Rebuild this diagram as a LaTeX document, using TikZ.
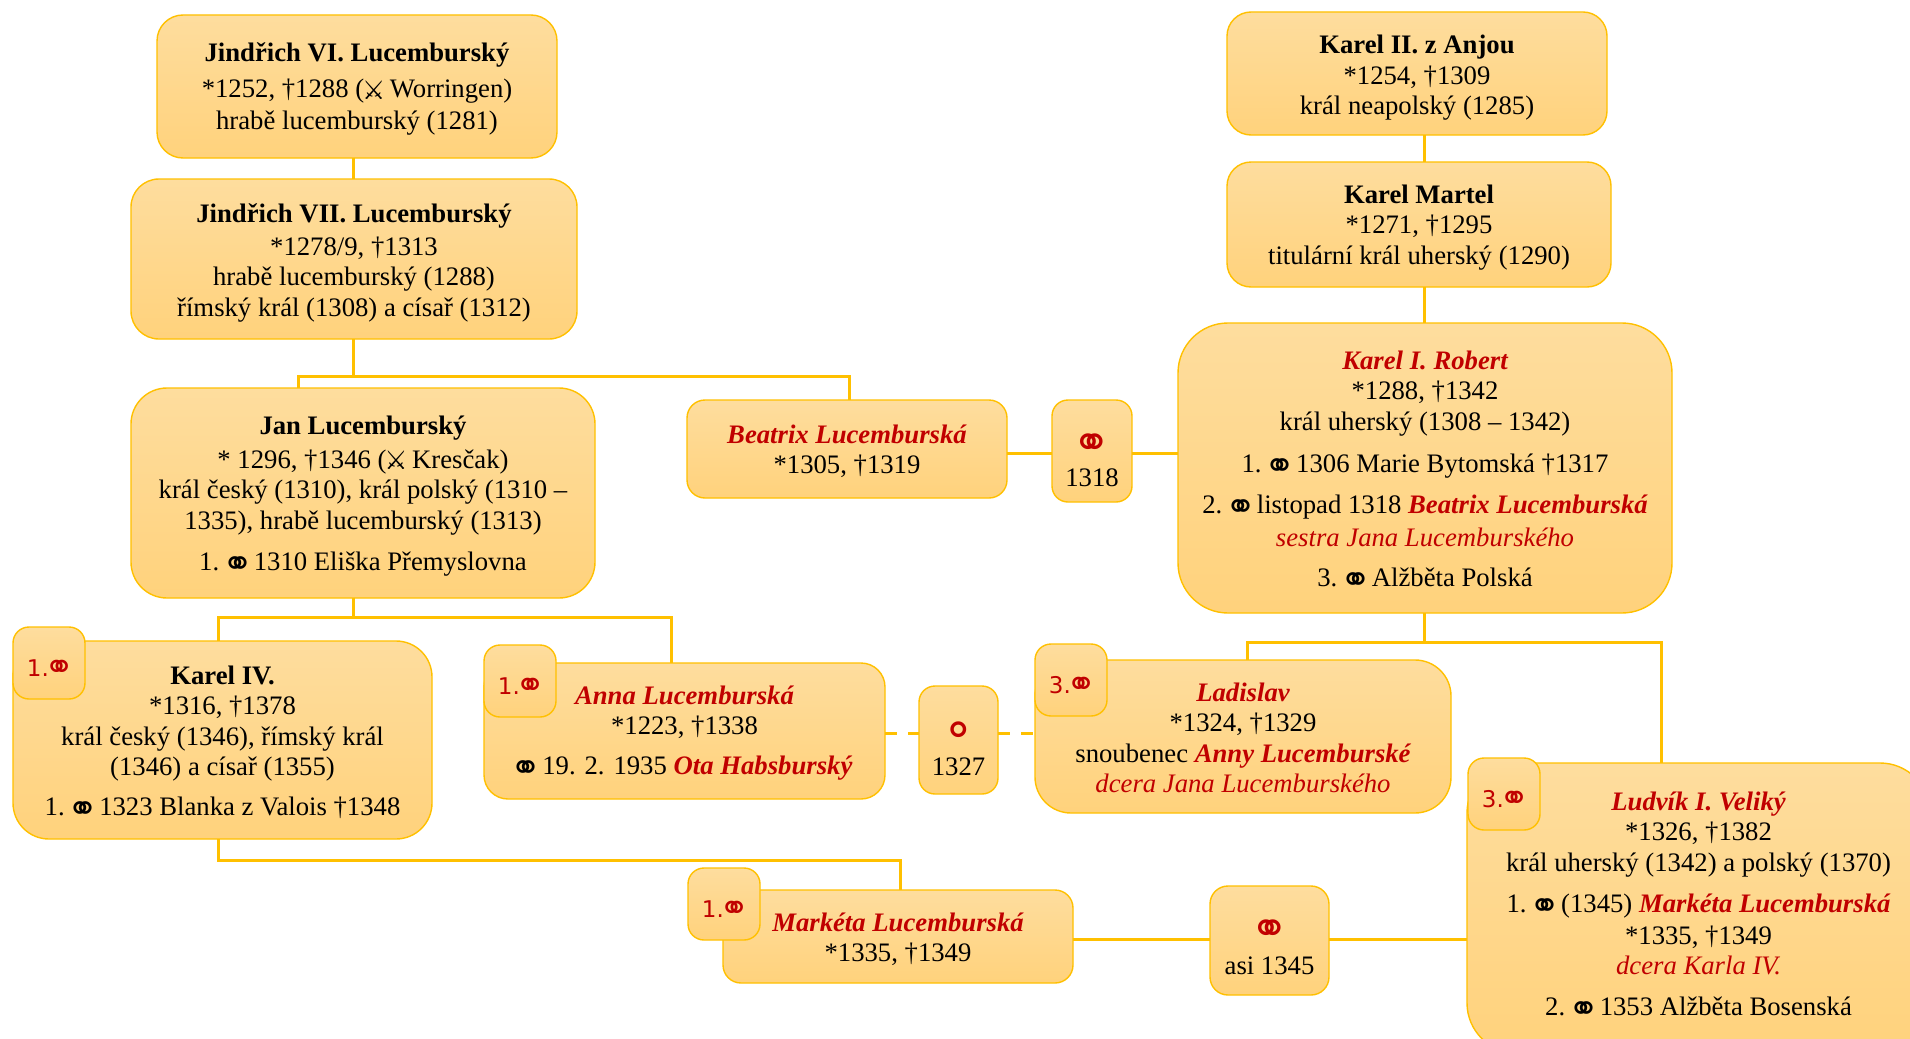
\documentclass[tikz,border=0pt]{standalone}
\usepackage{fontspec}
\setmainfont{Liberation Serif}
\newfontfamily\symf{DejaVu Sans}
\definecolor{boxline}{HTML}{FFC000}
\definecolor{boxtop}{HTML}{FEDD9E}
\definecolor{boxbot}{HTML}{FFD27C}
\definecolor{redname}{HTML}{C00000}
\newcommand{\mar}{\makebox[19pt]{\raisebox{-6pt}{\symf\fontsize{37}{21}\selectfont ⚭}}}
\newcommand{\swords}{\makebox[19pt]{\raisebox{-1.5pt}{\symf\fontsize{26}{21}\selectfont ⚔}}}
\newcommand{\bigmar}{{\color{redname}\symf\fontsize{46}{27}\selectfont ⚭}}
\newcommand{\nm}[1]{\textbf{\textit{\color{redname}#1}}}
\newcommand{\rd}[1]{\textit{\color{redname}#1}}
\newcommand{\famnode}[8]{%
  \node[fambox,rounded corners=#6pt] (#1) at (#2,-#3)
  {\parbox[c][\dimexpr #5pt-#3pt\relax][t]{\dimexpr #4pt-#2pt\relax}{%
     \fontsize{26.7}{30.5}\selectfont\lineskiplimit=-100pt\centering
     \rule{0pt}{#7pt}#8}};}
\newcommand{\badge}[5]{%
  \node[fambox,rounded corners=16pt] (#1) at (#2,-#3)
  {\parbox[c][72pt][t]{72pt}{\centering\color{redname}%
     \symf\fontsize{23}{22}\selectfont\rule{0pt}{49pt}\hspace{4pt}#4.\hspace{-4pt}\raisebox{-3.5pt}{\fontsize{36}{22}\selectfont #5}}};}
\tikzset{
  fambox/.style={draw=boxline,line width=1.4pt,top color=boxtop,bottom color=boxbot,
    inner sep=0pt,outer sep=0pt,anchor=north west},
  link/.style={draw=boxline,line width=3pt},
  dashlink/.style={draw=boxline,line width=3pt,dash pattern=on 12pt off 11pt}
}
\begin{document}
\begin{tikzpicture}[x=1pt,y=1pt]
\useasboundingbox (0,0) rectangle (1910,-1038);
\clip (0,0) rectangle (1910,-1038);
\fill[white] (0,0) rectangle (1910,-1038);
\coordinate (trL) at (353,-376);
\coordinate (trJ) at (353,-617);
\coordinate (trJa) at (298,-376);
\coordinate (trBe) at (849,-376);
\coordinate (trKa) at (218,-617);
\coordinate (trAn) at (671,-617);
\coordinate (trKb) at (218,-860);
\coordinate (trMa) at (900,-860);
\coordinate (trR) at (1424,-642);
\coordinate (trLa) at (1247,-642);
\coordinate (trLu) at (1661,-642);
\coordinate (dashY) at (0,-733);
\coordinate (marA) at (0,-453);
\coordinate (marB) at (0,-939);

\famnode{jsix}{157}{15}{557}{158}{26}{46}{\textbf{Jindřich VI. Lucemburský}\\[6pt]
  {}*1252, †1288 (\swords{} Worringen)\\[1pt]hrabě lucemburský (1281)}
\famnode{jseven}{131}{179}{577}{339}{28}{43}{\textbf{Jindřich VII. Lucemburský}\\[2.5pt]
  {}*1278/9, †1313\\hrabě lucemburský (1288)\\římský král (1308) a císař (1312)}
\famnode{jan}{131}{388}{595}{598}{36}{46}{\textbf{Jan Lucemburský}\\[3.5pt]
  {}* 1296, †1346 (\swords{} Kresčak)\\král český (1310), král polský (1310 –\\1335), hrabě lucemburský (1313)\\[10.5pt]
  1. \mar{} 1310 Eliška Přemyslovna}
\famnode{beat}{687}{400}{1007}{498}{18}{43}{\nm{Beatrix Lucemburská}\\{}*1305, †1319}
\famnode{mone}{1052}{400}{1132}{502}{16}{58}{\bigmar\\[-2.5pt]1318}
\famnode{kaii}{1227}{12}{1607}{135}{24}{42}{\textbf{Karel II. z Anjou}\\{}*1254, †1309\\král neapolský (1285)}
\famnode{mart}{1227}{162}{1611}{287}{24}{41}{\textbf{Karel Martel}\\{}*1271, †1295\\titulární král uherský (1290)}
\famnode{robe}{1178}{323}{1672}{613}{50}{46}{\nm{Karel I. Robert}\\{}*1288, †1342\\král uherský (1308 – 1342)\\[11.5pt]
  1. \mar{} 1306 Marie Bytomská †1317\\[10.5pt]
  2. \mar{} listopad 1318 \nm{Beatrix Lucemburská}\\[2.5pt]
  \rd{sestra Jana Lucemburského}\\[9.5pt]
  3. \mar{} Alžběta Polská}
\famnode{kafo}{13}{641}{432}{839}{36}{43}{\textbf{Karel IV.}\\{}*1316, †1378\\král český (1346), římský král\\(1346) a císař (1355)\\[9.5pt]
  1. \mar{} 1323 Blanka z Valois †1348}
\famnode{anna}{484}{663}{885}{799}{24}{41}{\nm{Anna Lucemburská}\\{}*1223, †1338\\[9.5pt]
  \mar{} 19. 2. 1935 \nm{Ota Habsburský}}
\famnode{mtwo}{919}{686}{998}{794}{16}{60}{{\color{redname}\symf\fontsize{46}{27}\selectfont ⚬}\\[-1.5pt]1327}
\famnode{lada}{1035}{660}{1451}{813}{36}{41}{\nm{Ladislav}\\{}*1324, †1329\\snoubenec \nm{Anny Lucemburské}\\\rd{dcera Jana Lucemburského}}
\famnode{ludv}{1467}{763}{1930}{1053}{50}{47}{\nm{Ludvík I. Veliký}\\{}*1326, †1382\\král uherský (1342) a polský (1370)\\[10.5pt]
  1. \mar{} (1345) \nm{Markéta Lucemburská}\\[1.5pt]
  {}*1335, †1349\\\rd{dcera Karla IV.}\\[10.5pt]
  2. \mar{} 1353 Alžběta Bosenská}
\famnode{mark}{723}{890}{1073}{983}{18}{41}{\nm{Markéta Lucemburská}\\{}*1335, †1349}
\famnode{mthr}{1210}{886}{1329}{995}{18}{58}{\bigmar\\[-0.5pt]asi 1345}

\badge{bka}{13}{627}{1}{⚭}
\badge{ban}{484}{645}{1}{⚭}
\badge{bla}{1035}{644}{3}{⚭}
\badge{blu}{1468}{758}{3}{⚭}
\badge{bma}{688}{868}{1}{⚭}

\draw[link] (jsix.south -| trL) -- (jseven.north -| trL);
\draw[link] (jseven.south -| trL) -- (trL);
\draw[link] (jan.north -| trJa) -- (trJa) -- (trBe) -- (beat.north -| trBe);
\draw[link] (jan.south -| trJ) -- (trJ);
\draw[link] (kafo.north -| trKa) -- (trKa) -- (trAn) -- (anna.north -| trAn);
\draw[link] (kafo.south -| trKb) -- (trKb) -- (trMa) -- (mark.north -| trMa);
\draw[link] (kaii.south -| trR) -- (mart.north -| trR);
\draw[link] (mart.south -| trR) -- (robe.north -| trR);
\draw[link] (robe.south -| trR) -- (trR);
\draw[link] (lada.north -| trLa) -- (trLa) -- (trLu) -- (ludv.north -| trLu);
\draw[link] (beat.east |- marA) -- (mone.west |- marA);
\draw[link] (mone.east |- marA) -- (robe.west |- marA);
\draw[link] (mark.east |- marB) -- (mthr.west |- marB);
\draw[link] (mthr.east |- marB) -- (ludv.west |- marB);
\draw[dashlink] (anna.east |- dashY) -- (mtwo.west |- dashY);
\draw[dashlink] (mtwo.east |- dashY) -- (lada.west |- dashY);
\end{tikzpicture}
\end{document}
